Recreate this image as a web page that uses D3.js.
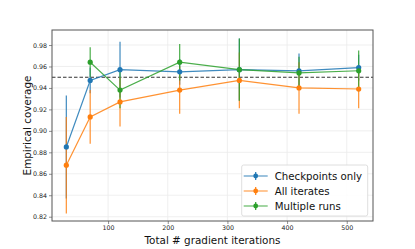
<!DOCTYPE html>
<html>
<head>
<meta charset="utf-8">
<script src="https://cdn.jsdelivr.net/npm/d3@7"></script>
<style>
  body { margin: 0; background: #fff; }
  svg { font-family: 'DejaVu Sans', sans-serif; }
</style>
</head>
<body>
<div id="chart"></div>
<script>
// data
const iters = [30, 70, 120, 220, 320, 420, 520];
const xTicks = [100, 200, 300, 400, 500];
const yTicks = [0.82, 0.84, 0.86, 0.88, 0.90, 0.92, 0.94, 0.96, 0.98];

const checkpointsMean = [0.885, 0.947, 0.957, 0.955, 0.957, 0.956, 0.959];
const checkpointsErr = [0.048, 0.012, 0.026, 0.012, 0.029, 0.016, 0.012];
const allItersMean = [0.868, 0.913, 0.927, 0.938, 0.947, 0.940, 0.939];
const allItersErr = [0.045, 0.025, 0.023, 0.022, 0.026, 0.024, 0.018];
const multiRunsMean = [null, 0.964, 0.938, 0.964, 0.957, 0.954, 0.956];
const multiRunsErr = [null, 0.014, 0.017, 0.017, 0.029, 0.015, 0.019];
const target = 0.95;

const seriesNames = ['Checkpoints only', 'All iterates', 'Multiple runs'];
const seriesColors = ['#1f77b4', '#ff7f0e', '#2ca02c'];

const drawChart = () => {
  const width = 415, height = 249;
  const margin = { top: 30, left: 52, right: 42, bottom: 28 };
  const innerW = width - margin.left - margin.right;
  const innerH = height - margin.top - margin.bottom;

  const svg = d3.select('#chart').append('svg')
    .attr('width', width).attr('height', height);
  const g = svg.append('g')
    .attr('transform', `translate(${margin.left},${margin.top})`);

  const x = d3.scaleLinear().domain([6, 544]).range([0, innerW]);
  const y = d3.scaleLinear().domain([0.816, 0.994]).range([innerH, 0]);

  // grid
  g.selectAll('.xgrid').data(xTicks).enter().append('line')
    .attr('x1', d => x(d)).attr('x2', d => x(d))
    .attr('y1', 0).attr('y2', innerH)
    .attr('stroke', '#ebebeb').attr('stroke-width', 0.8);
  g.selectAll('.ygrid').data(yTicks).enter().append('line')
    .attr('x1', 0).attr('x2', innerW)
    .attr('y1', d => y(d)).attr('y2', d => y(d))
    .attr('stroke', '#ebebeb').attr('stroke-width', 0.8);

  // axes
  const xAxis = g.append('g').attr('transform', `translate(0,${innerH})`)
    .call(d3.axisBottom(x).tickValues(xTicks).tickSize(3).tickPadding(2));
  const yAxis = g.append('g')
    .call(d3.axisLeft(y).tickValues(yTicks).tickSize(3).tickPadding(2).tickFormat(d3.format('.2f')));
  [xAxis, yAxis].forEach(a => {
    a.select('.domain').remove();
    a.selectAll('text').attr('font-size', 6.3).attr('fill', '#222')
      .attr('font-family', 'DejaVu Sans');
    a.selectAll('line').attr('stroke', '#444').attr('stroke-width', 0.6);
  });

  const series = [
    { mean: checkpointsMean, err: checkpointsErr },
    { mean: allItersMean, err: allItersErr },
    { mean: multiRunsMean, err: multiRunsErr },
  ].map((s, i) => ({
    color: seriesColors[i],
    pts: iters.map((v, j) => ({ x: v, m: s.mean[j], e: s.err[j] }))
      .filter(d => d.m !== null),
  }));

  // target line
  g.append('line')
    .attr('x1', 0).attr('x2', innerW)
    .attr('y1', y(target)).attr('y2', y(target))
    .attr('stroke', '#333').attr('stroke-width', 1.1)
    .attr('stroke-dasharray', '3.5,2');

  const line = d3.line().x(d => x(d.x)).y(d => y(d.m));

  // error bars first, then lines, then markers on top
  series.forEach((s, i) => {
    g.selectAll(`.err-${i}`).data(s.pts).enter().append('line')
      .attr('x1', d => x(d.x)).attr('x2', d => x(d.x))
      .attr('y1', d => y(d.m - d.e)).attr('y2', d => y(d.m + d.e))
      .attr('stroke', s.color).attr('stroke-width', 1.2).attr('opacity', 0.85);
  });
  series.forEach(s => {
    g.append('path').datum(s.pts)
      .attr('d', line)
      .attr('fill', 'none')
      .attr('stroke', s.color).attr('stroke-width', 1.2).attr('opacity', 0.85);
  });
  series.forEach((s, i) => {
    g.selectAll(`.pt-${i}`).data(s.pts).enter().append('circle')
      .attr('cx', d => x(d.x)).attr('cy', d => y(d.m))
      .attr('r', 2.6).attr('fill', s.color);
  });

  // frame
  g.append('rect')
    .attr('width', innerW).attr('height', innerH)
    .attr('fill', 'none').attr('stroke', '#555').attr('stroke-width', 1);

  // axis labels
  svg.append('text')
    .attr('x', margin.left + innerW / 2).attr('y', 244)
    .attr('text-anchor', 'middle').attr('font-size', 10.4)
    .attr('fill', '#111')
    .text('Total # gradient iterations');
  svg.append('text')
    .attr('transform', `translate(31,${margin.top + innerH / 2}) rotate(-90)`)
    .attr('text-anchor', 'middle').attr('font-size', 10.4)
    .attr('fill', '#111')
    .text('Empirical coverage');

  // legend
  const legend = g.append('g')
    .attr('transform', `translate(${241.7 - margin.left},${165 - margin.top})`);
  legend.append('rect')
    .attr('width', 126).attr('height', 51).attr('rx', 2)
    .attr('fill', '#fff').attr('fill-opacity', 0.85)
    .attr('stroke', '#d5d5d5').attr('stroke-width', 0.8);

  legend.selectAll('.legend-item')
    .data(seriesNames)
    .enter()
    .append('g')
    .attr('transform', (d, i) => `translate(0, ${11 + i * 15})`)
    .each(function (d, i) {
      const item = d3.select(this);
      const color = seriesColors[i];
      item.append('line')
        .attr('x1', 2).attr('x2', 26).attr('y1', 0).attr('y2', 0)
        .attr('stroke', color).attr('stroke-width', 1.6).attr('opacity', 0.55);
      item.append('line')
        .attr('x1', 14).attr('x2', 14).attr('y1', -4).attr('y2', 4)
        .attr('stroke', color).attr('stroke-width', 1.2);
      item.append('circle')
        .attr('cx', 14).attr('cy', 0).attr('r', 2.4).attr('fill', color);
      item.append('text')
        .attr('x', 33).attr('y', 3.6)
        .attr('font-size', 10.2).attr('fill', '#111')
        .text(d);
    });
};

drawChart();
</script>
</body>
</html>
